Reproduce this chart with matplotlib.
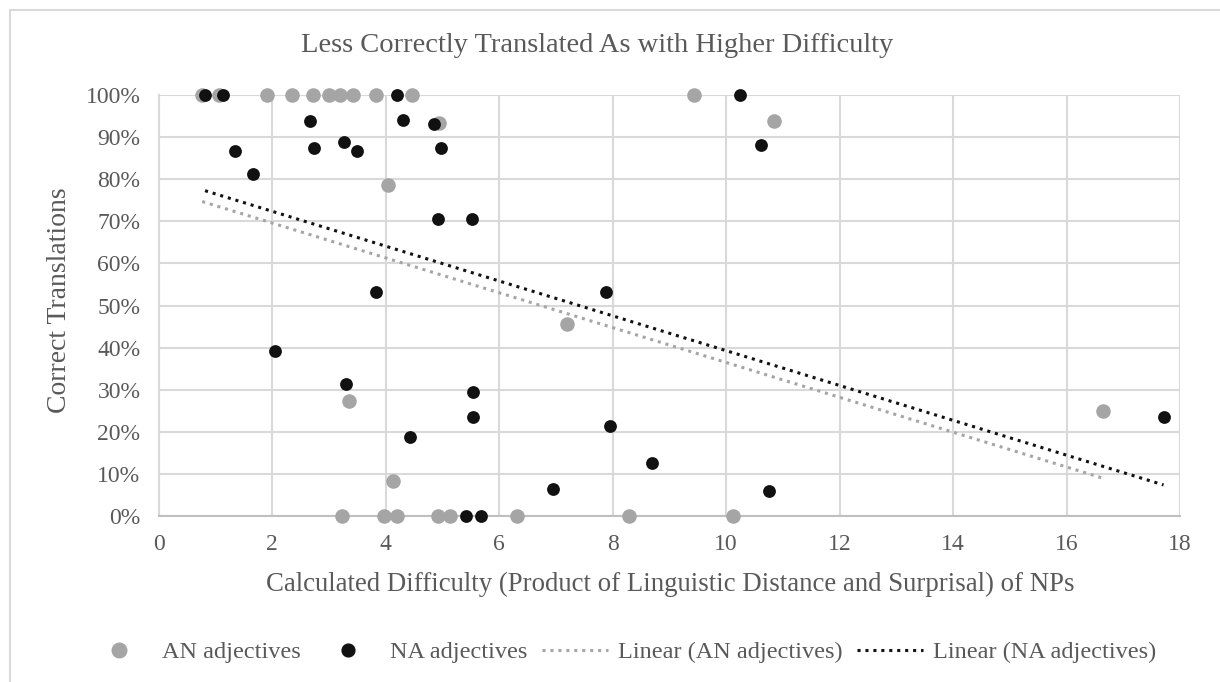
import numpy as np
import matplotlib.pyplot as plt
from matplotlib.lines import Line2D
from matplotlib.patches import Rectangle
from matplotlib.ticker import PercentFormatter

plt.rcParams['font.family'] = ['Liberation Serif', 'DejaVu Serif']

# difficulty (x) and share of correct translations (y, %)
an_x = [0.77, 1.07, 1.92, 2.35, 2.73, 3.00, 3.20, 3.43, 3.83, 4.47, 9.43,
        4.95, 10.85, 4.05, 7.19, 3.35, 16.65, 4.14,
        3.24, 3.98, 4.21, 4.93, 5.14, 6.31, 8.29, 10.13]
an_y = [100, 100, 100, 100, 100, 100, 100, 100, 100, 100, 100,
        93.3, 93.8, 78.6, 45.5, 27.3, 25.0, 8.3,
        0, 0, 0, 0, 0, 0, 0, 0]

na_x = [0.82, 1.13, 4.21, 10.24, 2.67, 4.31, 4.86, 1.35, 2.74, 3.26, 3.50,
        4.97, 10.62, 1.66, 4.93, 5.52, 3.83, 7.89, 2.06, 3.30, 5.54, 5.54,
        7.96, 17.71, 4.43, 8.70, 6.96, 10.76, 5.42, 5.68]
na_y = [100, 100, 100, 100, 93.8, 94.1, 93.0, 86.7, 87.5, 88.9, 86.7,
        87.5, 88.2, 81.3, 70.6, 70.6, 53.3, 53.3, 39.1, 31.3, 29.4, 23.5,
        21.4, 23.5, 18.8, 12.5, 6.3, 5.9, 0, 0]

x_ticks = np.arange(0, 19, 2)
y_ticks = np.arange(0, 101, 10)

GRAY = "#a5a5a5"
BLACK = "#111111"
TXT = "#595959"
GRID = "#d9d9d9"
DOTS = (0, (1, 1.6))

fig = plt.figure(figsize=(12.2, 6.82), dpi=100)
ax = fig.add_axes([158.5 / 1220, 1 - 516 / 682, (1180 - 158.5) / 1220, (516 - 95) / 682])

# outer chart border (cut off on the right and bottom in the reference)
fig.patches.append(Rectangle((10 / 1220, -0.1), 1.2, 1 - 10 / 682 + 0.1,
                             transform=fig.transFigure, fill=False,
                             edgecolor=GRID, linewidth=1.5))

ax.scatter(an_x, np.array(an_y) / 100, s=110, color=GRAY, zorder=3, clip_on=False,
           linewidths=0)
ax.scatter(na_x, np.array(na_y) / 100, s=85, color=BLACK, zorder=4, clip_on=False,
           linewidths=0)

# linear trend lines (least squares, like Excel)
for xs, ys, col in [(an_x, an_y, GRAY), (na_x, na_y, BLACK)]:
    k, b = np.polyfit(xs, np.array(ys) / 100, 1)
    xx = np.array([min(xs), max(xs)])
    ax.plot(xx, k * xx + b, linestyle=DOTS, color=col, lw=2.2, zorder=2)

ax.set_xlim(0, 18)
ax.set_ylim(0, 1)
ax.set_xticks(x_ticks)
ax.set_yticks(y_ticks / 100)
ax.yaxis.set_major_formatter(PercentFormatter(1.0, decimals=0))
ax.grid(True, color=GRID, linewidth=1.5)
ax.set_axisbelow(True)
for side in ["top", "right"]:
    ax.spines[side].set_visible(False)
ax.spines["left"].set_color(GRID)
ax.spines["left"].set_linewidth(1.5)
ax.spines["bottom"].set_color("#bfbfbf")
ax.spines["bottom"].set_linewidth(1.5)
ax.tick_params(length=0, labelsize=17, labelcolor=TXT, pad=13)

fig.text(597 / 1220, 1 - 45 / 682, "Less Correctly Translated As with Higher Difficulty",
         ha="center", va="center", fontsize=20.5, color=TXT)
fig.text(670 / 1220, 1 - 584 / 682,
         "Calculated Difficulty (Product of Linguistic Distance and Surprisal) of NPs",
         ha="center", va="center", fontsize=19.3, color=TXT)
fig.text(60 / 1220, 1 - 300 / 682, "Correct Translations", rotation=90,
         ha="center", va="center", fontsize=20, color=TXT)

handles = [
    Line2D([], [], marker="o", linestyle="none", color=GRAY, markersize=10.5),
    Line2D([], [], marker="o", linestyle="none", color=BLACK, markersize=9.2),
    Line2D([], [], linestyle=DOTS, color=GRAY, lw=2.2),
    Line2D([], [], linestyle=DOTS, color=BLACK, lw=2.2),
]
labels = ["AN adjectives", "NA adjectives", "Linear (AN adjectives)", "Linear (NA adjectives)"]
leg = fig.legend(handles, labels, loc="center", bbox_to_anchor=(621 / 1220, 1 - 652 / 682),
                 ncol=4, frameon=False, fontsize=17.5, handlelength=2.7,
                 handletextpad=0.41, columnspacing=0.6, borderpad=0, borderaxespad=0)
for t in leg.get_texts():
    t.set_color(TXT)

fig.savefig("out.png", dpi=100)
